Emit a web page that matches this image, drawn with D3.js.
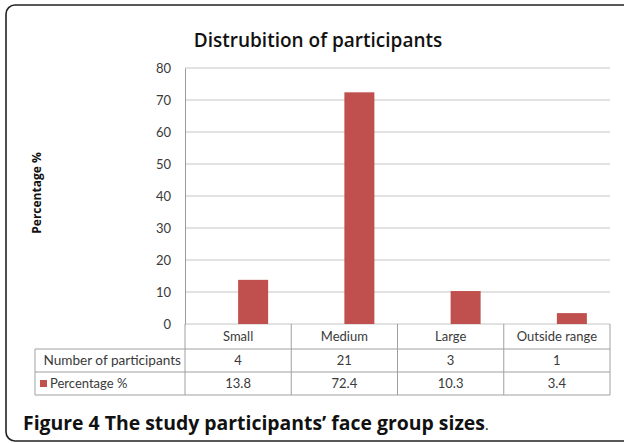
<!DOCTYPE html>
<html><head><meta charset="utf-8">
<script src="https://cdn.jsdelivr.net/npm/d3@7"></script>
<style>body{margin:0;background:#fff}svg{display:block}</style>
</head><body>
<script>
const categories = ["Small", "Medium", "Large", "Outside range"];
const seriesNames = ["Number of participants", "Percentage %"];
const participants = [4, 21, 3, 1];
const percentages = [13.8, 72.4, 10.3, 3.4];
const yTicks = [0, 10, 20, 30, 40, 50, 60, 70, 80];
const percentLabels = ["13.8", "72.4", "10.3", "3.4"];

const W = 624, H = 443;
const svg = d3.select("body").append("svg").attr("width", W).attr("height", H);
const font = "'Open Sans', 'Noto Sans', sans-serif";
const tfont = "Lato, 'Open Sans', sans-serif";
const txt = "#3a3a3a";

// frame
svg.append("rect").attr("x", 6).attr("y", 5).attr("width", 640).attr("height", 436)
  .attr("rx", 9).attr("fill", "none").attr("stroke", "#222").attr("stroke-width", 1.6);

// title
svg.append("text").attr("x", 318).attr("y", 47).attr("text-anchor", "middle")
  .attr("font-family", font).attr("font-weight", "600").attr("font-size", 19)
  .attr("fill", "#111").text("Distrubition of participants");

const x0 = d3.scaleBand().domain(categories).range([185, 610]);
const x1 = d3.scaleBand().domain(seriesNames).range([0, 60]);
const y = d3.scaleLinear().domain([0, 80]).range([324, 68]);

// grid
svg.append("g").selectAll("line").data(yTicks).join("line")
  .attr("x1", 185).attr("x2", 610).attr("y1", d => y(d)).attr("y2", d => y(d))
  .attr("stroke", "#c4c4c4").attr("stroke-width", 1);

// y axis
const yAxis = d3.axisLeft(y).tickValues(yTicks).tickSize(0).tickPadding(14);
const ga = svg.append("g").attr("transform", "translate(185,0)").call(yAxis);
ga.select(".domain").attr("stroke", "#9a9a9a");
ga.selectAll("text").attr("font-family", tfont).attr("font-size", 13).attr("fill", txt);

// bars (percentage series)
svg.append("g").selectAll("rect").data(percentages).join("rect")
  .attr("x", (d, i) => x0(categories[i]) + x0.bandwidth() / 2 - 30 + x1("Percentage %"))
  .attr("width", x1.bandwidth())
  .attr("y", d => y(d)).attr("height", d => y(0) - y(d))
  .attr("fill", "#c0504d");

// y title
svg.append("text").attr("transform", "translate(41,193) rotate(-90)")
  .attr("text-anchor", "middle").attr("font-family", font).attr("font-weight", "bold")
  .attr("font-size", 12).attr("fill", "#111").text("Percentage %");

// data table
const rowY = [324, 349, 372, 395];
const tg = svg.append("g").attr("stroke", "#a0a0a0").attr("stroke-width", 1).attr("fill", "none");
tg.append("line").attr("x1", 35).attr("x2", 610).attr("y1", rowY[1]).attr("y2", rowY[1]);
tg.append("line").attr("x1", 35).attr("x2", 610).attr("y1", rowY[2]).attr("y2", rowY[2]);
tg.append("line").attr("x1", 35).attr("x2", 610).attr("y1", rowY[3]).attr("y2", rowY[3]);
tg.append("line").attr("x1", 35).attr("x2", 35).attr("y1", rowY[1]).attr("y2", rowY[3]);
tg.append("line").attr("x1", 185).attr("x2", 185).attr("y1", rowY[0]).attr("y2", rowY[3]);
tg.selectAll(".v").data(categories).join("line")
  .attr("x1", d => x0(d) + x0.bandwidth()).attr("x2", d => x0(d) + x0.bandwidth())
  .attr("y1", rowY[0]).attr("y2", rowY[3]);

const cellText = (xx, yy, s, anchor) => svg.append("text").attr("x", xx).attr("y", yy)
  .attr("text-anchor", anchor || "middle").attr("font-family", tfont)
  .attr("font-size", 13).attr("fill", txt).text(s);

categories.forEach((c, i) => {
  const cx = x0(c) + x0.bandwidth() / 2;
  cellText(cx, 341, c);
  cellText(cx, 365, String(participants[i]));
  cellText(cx, 388, percentLabels[i]);
});
cellText(181, 365, seriesNames[0], "end").attr("font-size", 13.6);
svg.append("rect").attr("x", 40).attr("y", 380).attr("width", 7).attr("height", 7).attr("fill", "#c0504d");
cellText(50, 388, seriesNames[1], "start");

// caption
const cap = svg.append("text").attr("x", 23).attr("y", 430).attr("font-family", font)
  .attr("font-size", 19.4).attr("fill", "#111");
cap.append("tspan").attr("font-weight", "bold").text("Figure 4 The study participants\u2019 face group sizes");
cap.append("tspan").attr("font-size", 14).text(".");
</script>
</body></html>
